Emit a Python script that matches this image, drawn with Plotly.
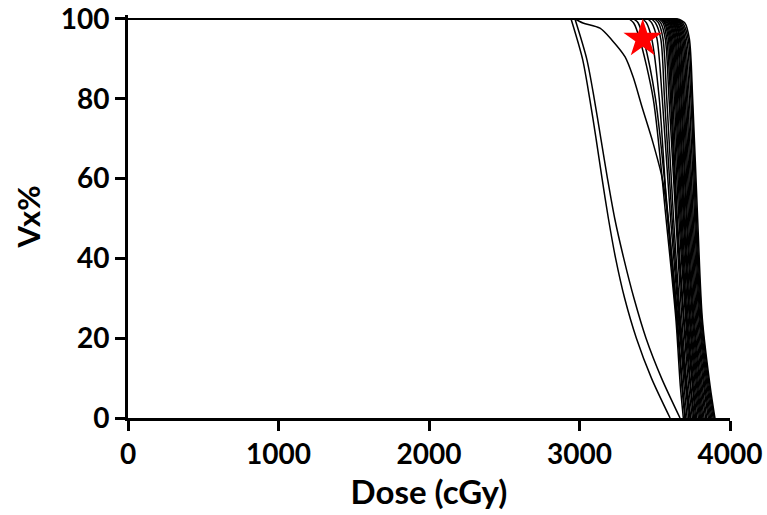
import plotly.graph_objects as go

# Cumulative dose-volume histograms: dose (cGy) vs. percentage of volume receiving it.

# Volume levels (%) at which dose was sampled for each plan in the main group
VOLUME_LEVELS = [100, 99, 95, 80, 50, 25, 8, 0]

# Dose (cGy) at each volume level for each plan in the main group
MAIN_GROUP_DOSES = [
    [3330, 3360, 3400, 3490, 3575, 3640, 3670, 3690],
    [3360, 3390, 3425, 3505, 3590, 3650, 3685, 3705],
    [3420, 3445, 3480, 3530, 3585, 3645, 3680, 3700],
    [3455, 3480, 3515, 3550, 3605, 3660, 3695, 3715],
    [3480, 3505, 3540, 3565, 3615, 3665, 3705, 3725],
    [3500, 3525, 3555, 3580, 3625, 3670, 3710, 3735],
    [3515, 3540, 3570, 3595, 3640, 3680, 3715, 3740],
    [3530, 3555, 3580, 3605, 3645, 3690, 3725, 3750],
    [3540, 3565, 3590, 3612, 3650, 3695, 3735, 3758],
    [3548, 3572, 3598, 3620, 3660, 3705, 3740, 3765],
    [3555, 3580, 3605, 3630, 3668, 3710, 3750, 3772],
    [3562, 3588, 3612, 3638, 3675, 3715, 3755, 3780],
    [3570, 3596, 3620, 3645, 3682, 3722, 3762, 3790],
    [3575, 3602, 3628, 3652, 3690, 3730, 3770, 3798],
    [3580, 3608, 3635, 3660, 3696, 3735, 3778, 3805],
    [3586, 3615, 3642, 3666, 3702, 3742, 3785, 3812],
    [3592, 3622, 3650, 3674, 3710, 3750, 3792, 3820],
    [3598, 3628, 3656, 3680, 3716, 3756, 3800, 3828],
    [3603, 3635, 3664, 3688, 3724, 3762, 3808, 3838],
    [3608, 3640, 3670, 3695, 3732, 3770, 3816, 3846],
    [3614, 3646, 3678, 3703, 3740, 3778, 3825, 3856],
    [3620, 3652, 3686, 3712, 3748, 3786, 3832, 3864],
    [3626, 3660, 3694, 3720, 3756, 3794, 3840, 3872],
    [3632, 3668, 3702, 3730, 3765, 3800, 3848, 3880],
    [3640, 3676, 3712, 3740, 3772, 3806, 3855, 3888],
    [3648, 3686, 3722, 3748, 3778, 3812, 3862, 3895],
    [3655, 3700, 3730, 3752, 3785, 3816, 3868, 3900],
]

# Plans with a slower fall-off, sampled as (dose, volume) pairs from the shoulder down
SLOW_PLAN_A_DOSE = [2944, 3020, 3068, 3110, 3150, 3192, 3240, 3300, 3378, 3478, 3602]
SLOW_PLAN_A_VOL = [100, 90, 80, 70, 60, 50, 40, 30, 20, 10, 0]

SLOW_PLAN_B_DOSE = [2970, 3048, 3098, 3142, 3186, 3234, 3294, 3362, 3442, 3545, 3668]
SLOW_PLAN_B_VOL = [100, 90, 80, 70, 60, 50, 40, 30, 20, 10, 0]

SLOW_PLAN_C_DOSE = [2970, 3023, 3136, 3216, 3303, 3356, 3415, 3489, 3548, 3582, 3615, 3648, 3688, 3735]
SLOW_PLAN_C_VOL = [100, 99, 97.7, 94.7, 90.5, 85.5, 78, 68.9, 60.4, 52.1, 39.6, 27.1, 14.5, 0]

# Highlighted reference point
STAR_DOSE = [3420]
STAR_VOL = [95]

X_TICKS = [0, 1000, 2000, 3000, 4000]
Y_TICKS = [0, 20, 40, 60, 80, 100]

CURVE_COLOR = "black"
CURVE_WIDTH = 1.5

fig = go.Figure()


def add_dvh(doses, volumes):
    """Flat 100% plateau up to the shoulder, then a smoothed fall-off."""
    fig.add_trace(go.Scatter(
        x=[0, doses[0]], y=[volumes[0], volumes[0]], mode="lines",
        line=dict(color=CURVE_COLOR, width=CURVE_WIDTH),
        hoverinfo="skip", showlegend=False,
    ))
    fig.add_trace(go.Scatter(
        x=doses, y=volumes, mode="lines",
        line=dict(color=CURVE_COLOR, width=CURVE_WIDTH, shape="spline", smoothing=0.8),
        hoverinfo="skip", showlegend=False,
    ))


for doses in MAIN_GROUP_DOSES:
    add_dvh(doses, VOLUME_LEVELS)

add_dvh(SLOW_PLAN_A_DOSE, SLOW_PLAN_A_VOL)
add_dvh(SLOW_PLAN_B_DOSE, SLOW_PLAN_B_VOL)
add_dvh(SLOW_PLAN_C_DOSE, SLOW_PLAN_C_VOL)

fig.add_trace(go.Scatter(
    x=STAR_DOSE, y=STAR_VOL, mode="markers",
    marker=dict(symbol="star", size=29, color="red", line=dict(width=0)),
    showlegend=False, cliponaxis=False,
))

TICK_FONT = dict(family="Lato", size=28, color="black", weight="bold")

axis_common = dict(
    showgrid=False, zeroline=False, automargin=False,
    showline=True, linecolor="black", linewidth=2.6,
    ticks="outside", ticklen=10, tickwidth=2.6, tickcolor="black",
    tickfont=TICK_FONT,
)

fig.update_xaxes(
    range=[0, 4000], tickvals=X_TICKS, ticktext=[str(v) for v in X_TICKS],
    title=dict(text="Dose (cGy)", standoff=12,
               font=dict(family="Lato", size=33, color="black", weight="bold")),
    **axis_common,
)
fig.update_yaxes(
    range=[0, 101], tickvals=Y_TICKS, ticktext=[str(v) for v in Y_TICKS],
    title=dict(text="Vx%", standoff=12,
               font=dict(family="Lato", size=31, color="black", weight="bold")),
    **axis_common,
)

fig.update_layout(
    width=767, height=515,
    margin=dict(l=128, r=37, t=15, b=97),
    plot_bgcolor="white", paper_bgcolor="white",
)

fig.write_html("out.html")
